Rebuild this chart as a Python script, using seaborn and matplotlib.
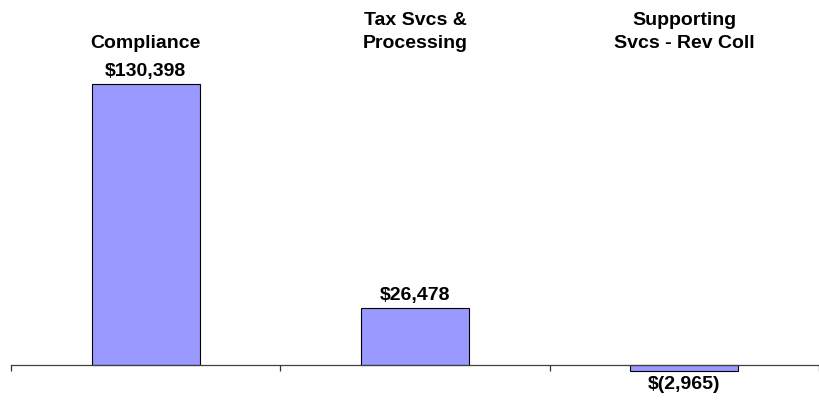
import matplotlib
matplotlib.use("Agg")
import matplotlib.pyplot as plt
import seaborn as sns
import pandas as pd

categories = ["Compliance", "Tax Svcs &\nProcessing", "Supporting\nSvcs - Rev Coll"]
values = [130398, 26478, -2965]
value_labels = ["$130,398", "$26,478", "$(2,965)"]

sns.set_theme(style="white")
plt.rcParams["font.family"] = ["Liberation Sans", "DejaVu Sans"]
plt.rcParams["text.color"] = "black"

W, H = 819, 404
CAT_W = 272  # px per category
LEFT = 11
fig = plt.figure(figsize=(W / 100, H / 100), dpi=100)
# axes cover the full height, x from the first tick to the right edge
ax = fig.add_axes([LEFT / W, 0, (W - LEFT) / W, 1])

df = pd.DataFrame({"cat": categories, "val": values})
sns.barplot(data=df, x="cat", y="val", color="#9999FF", saturation=1,
            edgecolor="black", linewidth=0.8, width=0.4, ax=ax)

# zero line at 365 px from top, 281 px for the biggest bar
px_per_unit = 281 / 130398
ax.set_ylim(-(H - 365) / px_per_unit, 365 / px_per_unit)
ax.set_xlim(-0.5, -0.5 + (W - LEFT) / CAT_W)

for s in ["top", "right", "left"]:
    ax.spines[s].set_visible(False)
ax.spines["bottom"].set_position(("data", 0))
ax.spines["bottom"].set_color("#404040")
ax.spines["bottom"].set_linewidth(0.9)
ax.set_xticks([-0.5, 0.5, 1.5, 2.5])
ax.set_xticklabels([])
ax.tick_params(axis="x", direction="out", length=4, width=0.9, color="#303030", bottom=True)
ax.set_yticks([])
ax.set_xlabel("")
ax.set_ylabel("")

# category names across the top
for i, c in enumerate(categories):
    ax.text(i, 1 - 52 / H, c, transform=ax.get_xaxis_transform(), ha="center", va="bottom",
            fontsize=14, fontweight="bold", linespacing=1.45, color="black")

# value labels
for i, (v, lab) in enumerate(zip(values, value_labels)):
    if v >= 0:
        ax.annotate(lab, (i, v), xytext=(0, 3), textcoords="offset points",
                    ha="center", va="bottom", fontsize=14, fontweight="bold", color="black")
    else:
        ax.annotate(lab, (i, v), xytext=(0, -3), textcoords="offset points",
                    ha="center", va="top", fontsize=14, fontweight="bold", color="black")

fig.savefig("out.png", dpi=100)
